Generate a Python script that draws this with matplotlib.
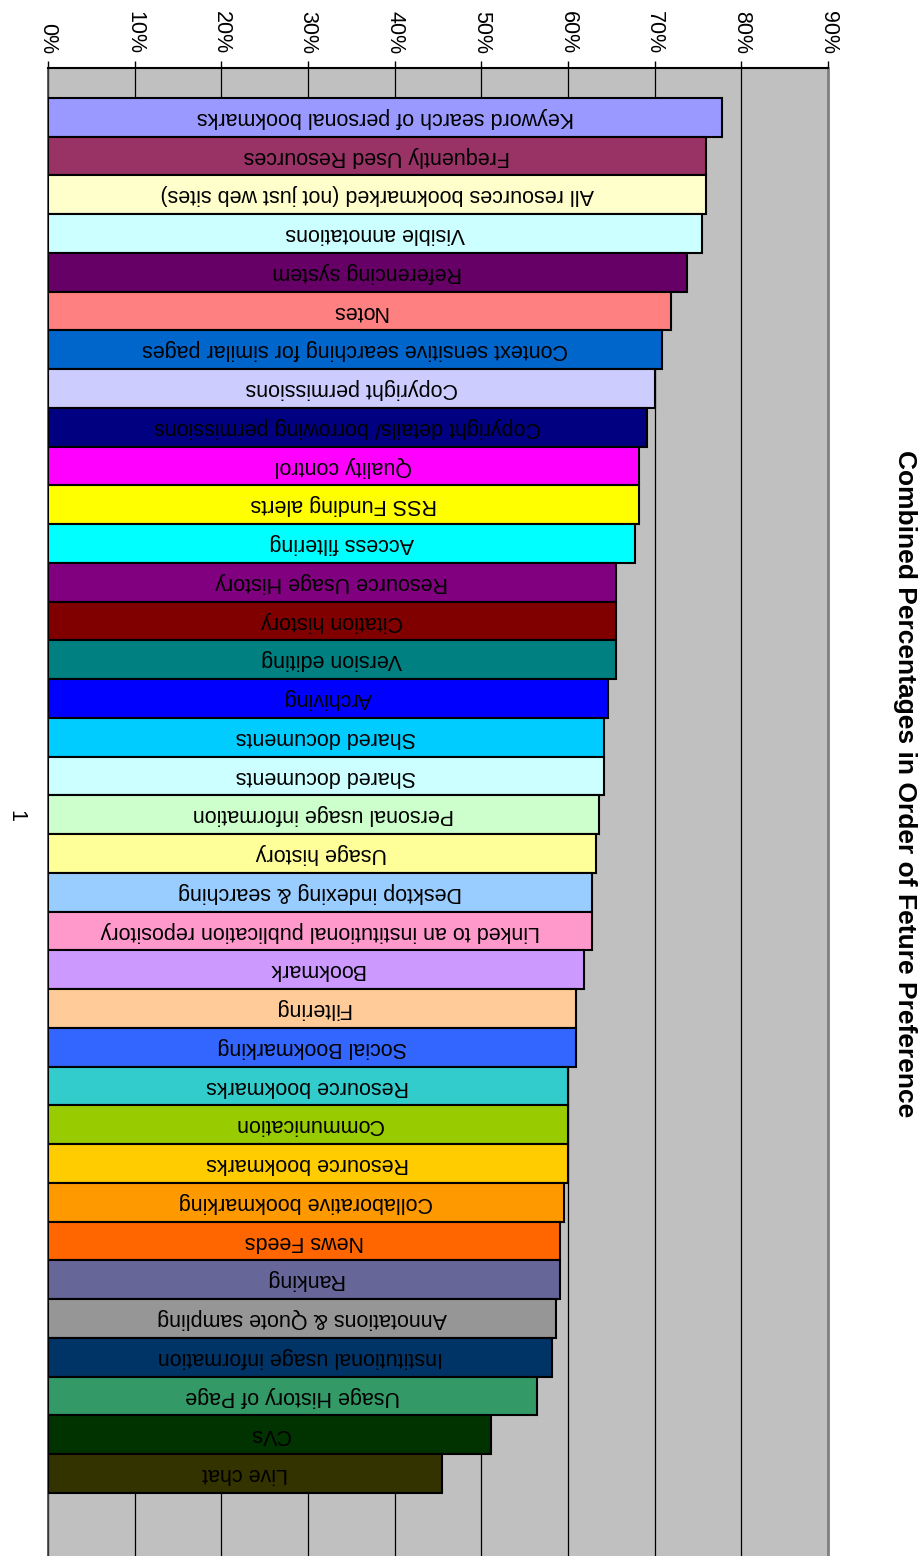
import matplotlib.pyplot as plt
from matplotlib.ticker import PercentFormatter

plt.rcParams['font.family'] = ['Liberation Sans', 'DejaVu Sans']

# Datos: rasgos y porcentajes combinados
features = [
    'Keyword search of personal bookmarks',
    'Frequently Used Resources',
    'All resources bookmarked (not just web sites)',
    'Visible annotations',
    'Referencing system',
    'Notes',
    'Context sensitive searching for similar pages',
    'Copyright permissions',
    'Copyright details/ borrowing permissions',
    'Quality control',
    'RSS Funding alerts',
    'Access filtering',
    'Resource Usage History',
    'Citation history',
    'Version editing',
    'Archiving',
    'Shared documents',
    'Shared documents',
    'Personal usage information',
    'Usage history',
    'Desktop indexing & searching',
    'Linked to an institutional publication repository',
    'Bookmark',
    'Filtering',
    'Social Bookmarking',
    'Resource bookmarks',
    'Communication',
    'Resource bookmarks',
    'Collaborative bookmarking',
    'News Feeds',
    'Ranking',
    'Annotations & Quote sampling',
    'Institutional usage information',
    'Usage History of Page',
    'CVs',
    'Live chat',
]

percent = [77.8, 75.9, 75.9, 75.5, 73.7, 71.9, 70.9, 70.0, 69.1, 68.2,
           68.2, 67.7, 65.5, 65.5, 65.5, 64.6, 64.1, 64.1, 63.6, 63.2,
           62.8, 62.8, 61.8, 60.9, 60.9, 60.0, 60.0, 60.0, 59.5, 59.1,
           59.1, 58.6, 58.2, 56.4, 51.1, 45.5]

colors = ['#9999FF', '#993366', '#FFFFCC', '#CCFFFF', '#660066', '#FF8080',
          '#0066CC', '#CCCCFF', '#000080', '#FF00FF', '#FFFF00', '#00FFFF',
          '#800080', '#800000', '#008080', '#0000FF', '#00CCFF', '#CCFFFF',
          '#CCFFCC', '#FFFF99', '#99CCFF', '#FF99CC', '#CC99FF', '#FFCC99',
          '#3366FF', '#33CCCC', '#99CC00', '#FFCC00', '#FF9900', '#FF6600',
          '#666699', '#969696', '#003366', '#339966', '#003300', '#333300']

ticks = [0, 10, 20, 30, 40, 50, 60, 70, 80, 90]

W, H = 923, 1556
fig = plt.figure(figsize=(W / 100, H / 100), dpi=100)
ax = fig.add_axes([48 / W, 0, (828 - 48) / W, (H - 68) / H])

pos = list(range(len(features)))
ax.barh(pos, percent, height=1.0, color=colors, edgecolor='black',
        linewidth=1.5, zorder=3)

# Etiquetas dentro de las barras (texto invertido)
for i, (name, v) in enumerate(zip(features, percent)):
    ax.text(v / 2, i, name, rotation=180, ha='center', va='center',
            fontsize=15.5, color='black', zorder=4)

ax.set_facecolor('#C0C0C0')
ax.set_xlim(0, 90)
ax.set_ylim(37.126, -1.274)
ax.set_yticks([])
ax.set_xticks(ticks)
ax.xaxis.set_major_formatter(PercentFormatter(decimals=0))
ax.xaxis.tick_top()
ax.tick_params(axis='x', direction='out', length=5, width=1, pad=5,
               labelsize=15.5, labelrotation=-90)
ax.grid(axis='x', color='black', linewidth=0.9, zorder=1)
ax.set_axisbelow(True)

ax.spines['top'].set_color('black')
ax.spines['top'].set_linewidth(1.5)
ax.spines['right'].set_color('#808080')
ax.spines['right'].set_linewidth(2)
ax.spines['left'].set_color('#404040')
ax.spines['left'].set_linewidth(1.2)
ax.spines['bottom'].set_visible(False)

# Titulo y etiqueta de categoria
fig.text(905 / W, 1 - 784 / H, 'Combined Percentages in Order of Feture Preference',
         rotation=-90, ha='center', va='center', fontsize=19, fontweight='bold')
fig.text(16 / W, 1 - 816 / H, '1', rotation=-90, ha='center', va='center',
         fontsize=15.5)

fig.savefig('out.png', dpi=100)
